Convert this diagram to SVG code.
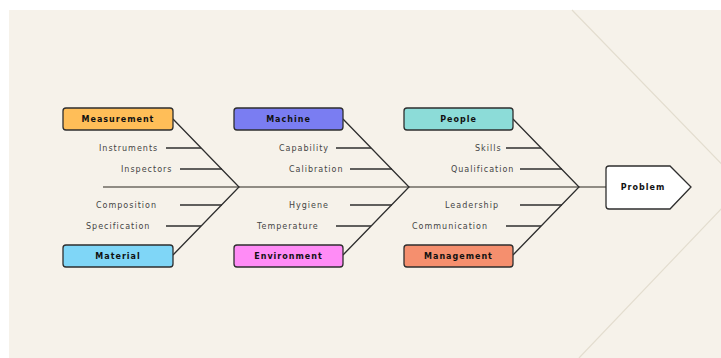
<svg xmlns="http://www.w3.org/2000/svg" width="721" height="358" viewBox="0 0 721 358">
<defs>
<style>
.bg{fill:#F6F2EA}
.deco{fill:none;stroke:#E3DDCF;stroke-width:1.2}
.box{stroke:#2E2E2E;stroke-width:1.3}
.lbl{font-family:"DejaVu Sans",sans-serif;font-size:8px;font-weight:bold;letter-spacing:1px;fill:#111;text-anchor:middle}
.sub{font-family:"DejaVu Sans",sans-serif;font-size:8px;letter-spacing:1px;fill:#444}
.ln{stroke:#2E2E2E;stroke-width:1.3;fill:none}
.spine{stroke:#6E6A62;stroke-width:1.6;fill:none}
</style>
</defs>
<rect width="721" height="358" fill="#FFFFFF"/>
<rect class="bg" x="9" y="10" width="712" height="348"/>
<polyline class="deco" points="572,10 743,186 579,358"/>

<g id="connectors">
<line class="spine" x1="103" y1="187" x2="606" y2="187"/>
<polyline class="ln" points="173,119 239,187 173,255"/>
<polyline class="ln" points="343,119 409,187 343,255"/>
<polyline class="ln" points="513,119 579,187 513,255"/>
<line class="ln" x1="166" y1="148" x2="201" y2="148"/>
<line class="ln" x1="180" y1="169" x2="222" y2="169"/>
<line class="ln" x1="180" y1="205" x2="222" y2="205"/>
<line class="ln" x1="166" y1="226" x2="201" y2="226"/>
<line class="ln" x1="336" y1="148" x2="371" y2="148"/>
<line class="ln" x1="350" y1="169" x2="392" y2="169"/>
<line class="ln" x1="350" y1="205" x2="392" y2="205"/>
<line class="ln" x1="336" y1="226" x2="371" y2="226"/>
<line class="ln" x1="506" y1="148" x2="541" y2="148"/>
<line class="ln" x1="520" y1="169" x2="562" y2="169"/>
<line class="ln" x1="520" y1="205" x2="562" y2="205"/>
<line class="ln" x1="506" y1="226" x2="541" y2="226"/>
</g>

<g id="measurement"><rect class="box" x="63" y="108" width="110" height="22" rx="3" fill="#FFBE58"/><text class="lbl" x="118" y="122">Measurement</text></g>
<g id="machine"><rect class="box" x="234" y="108" width="109" height="22" rx="3" fill="#7A7DF2"/><text class="lbl" x="288.5" y="122">Machine</text></g>
<g id="people"><rect class="box" x="404" y="108" width="109" height="22" rx="3" fill="#8CDCD8"/><text class="lbl" x="458.5" y="122">People</text></g>
<g id="material"><rect class="box" x="63" y="245" width="110" height="22" rx="3" fill="#7FD6F7"/><text class="lbl" x="118" y="259">Material</text></g>
<g id="environment"><rect class="box" x="234" y="245" width="109" height="22" rx="3" fill="#FF8CF6"/><text class="lbl" x="288.5" y="259">Environment</text></g>
<g id="management"><rect class="box" x="404" y="245" width="109" height="22" rx="3" fill="#F58F6E"/><text class="lbl" x="458.5" y="259">Management</text></g>
<g id="problem"><path class="box" fill="#FFFFFF" d="M609,166 H670 L691,187 L670,209 H609 Q606,209 606,206 V169 Q606,166 609,166 Z"/><text class="lbl" x="643" y="190">Problem</text></g>

<g id="causes">
<text class="sub" x="99" y="151">Instruments</text>
<text class="sub" x="121" y="172">Inspectors</text>
<text class="sub" x="96" y="208">Composition</text>
<text class="sub" x="86" y="229">Specification</text>
<text class="sub" x="279" y="151">Capability</text>
<text class="sub" x="289" y="172">Calibration</text>
<text class="sub" x="289" y="208">Hygiene</text>
<text class="sub" x="257" y="229">Temperature</text>
<text class="sub" x="475" y="151">Skills</text>
<text class="sub" x="451" y="172">Qualification</text>
<text class="sub" x="445" y="208">Leadership</text>
<text class="sub" x="412" y="229">Communication</text>
</g>
</svg>
